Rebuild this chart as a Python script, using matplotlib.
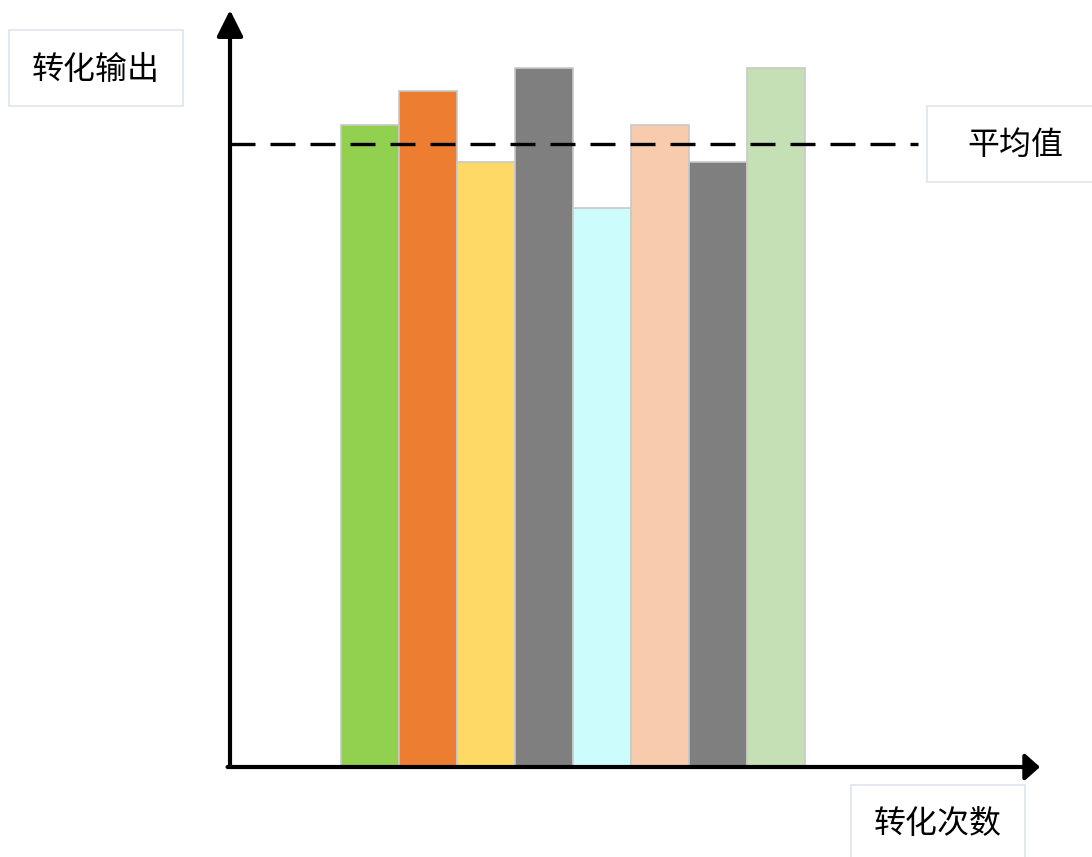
import matplotlib.pyplot as plt
import matplotlib.patches as patches

plt.rcParams['font.family'] = ['Noto Sans CJK SC', 'DejaVu Sans']

# 数据
bar_index = [0, 1, 2, 3, 4, 5, 6, 7]
bar_values = [642, 676, 605, 699, 559, 642, 605, 699]
bar_colors = ['#92d050', '#ed7d31', '#ffd966', '#7f7f7f',
              '#ccfcfc', '#f8cbad', '#7f7f7f', '#c5e0b4']
avg_value = 623
y_label = '转化输出'
x_label = '转化次数'
avg_label = '平均值'

W, H = 1092, 857
fig = plt.figure(figsize=(W / 100, H / 100), dpi=100)
fig.patch.set_facecolor('white')

# 坐标轴区域 (像素: 左230, 下90, 宽810, 高757)
ax = fig.add_axes([230 / W, 90 / H, 810 / W, 757 / H])
ax.patch.set_alpha(0)
ax.set_xlim((230 - 370) / 58, (1040 - 370) / 58)
ax.set_ylim(0, 757)
for s in ax.spines.values():
    s.set_visible(False)
ax.set_xticks([])
ax.set_yticks([])

ax.bar(bar_index, bar_values, width=1.0, color=bar_colors,
       edgecolor='#c8c8c8', linewidth=1.2, zorder=2)

# 平均值虚线
ax.plot([ax.get_xlim()[0], (918 - 370) / 58], [avg_value, avg_value],
        color='black', lw=2.4, dashes=(7.5, 4.5), zorder=3)

# 箭头坐标轴
ax.annotate('', xy=(0, 1.0), xytext=(0, 0), xycoords='axes fraction',
            arrowprops=dict(arrowstyle='-|>,head_length=0.8,head_width=0.4', lw=3,
                            color='black', shrinkA=0, shrinkB=0, mutation_scale=20),
            annotation_clip=False, zorder=4)
ax.annotate('', xy=(1.0, 0), xytext=(-0.003, 0), xycoords='axes fraction',
            arrowprops=dict(arrowstyle='-|>,head_length=0.45,head_width=0.4', lw=3,
                            color='black', shrinkA=0, shrinkB=0, mutation_scale=20),
            annotation_clip=False, zorder=4)

# 标签框 (像素: 左, 上, 右, 下)
def label_box(x0, y0, x1, y1, cx, cy, txt):
    fig.patches.append(patches.Rectangle((x0 / W, 1 - y1 / H), (x1 - x0) / W, (y1 - y0) / H,
                                         transform=fig.transFigure, fc='white',
                                         ec='#e0e6f0', lw=1.3, zorder=5))
    fig.text(cx / W, 1 - cy / H, txt, fontsize=23, ha='center', va='center', zorder=6)

label_box(9, 30, 183, 106, 96, 70, y_label)
label_box(927, 106, 1100, 182, 1015, 145, avg_label)
label_box(851, 785, 1025, 870, 938, 824, x_label)

fig.savefig('out.png', dpi=100)
